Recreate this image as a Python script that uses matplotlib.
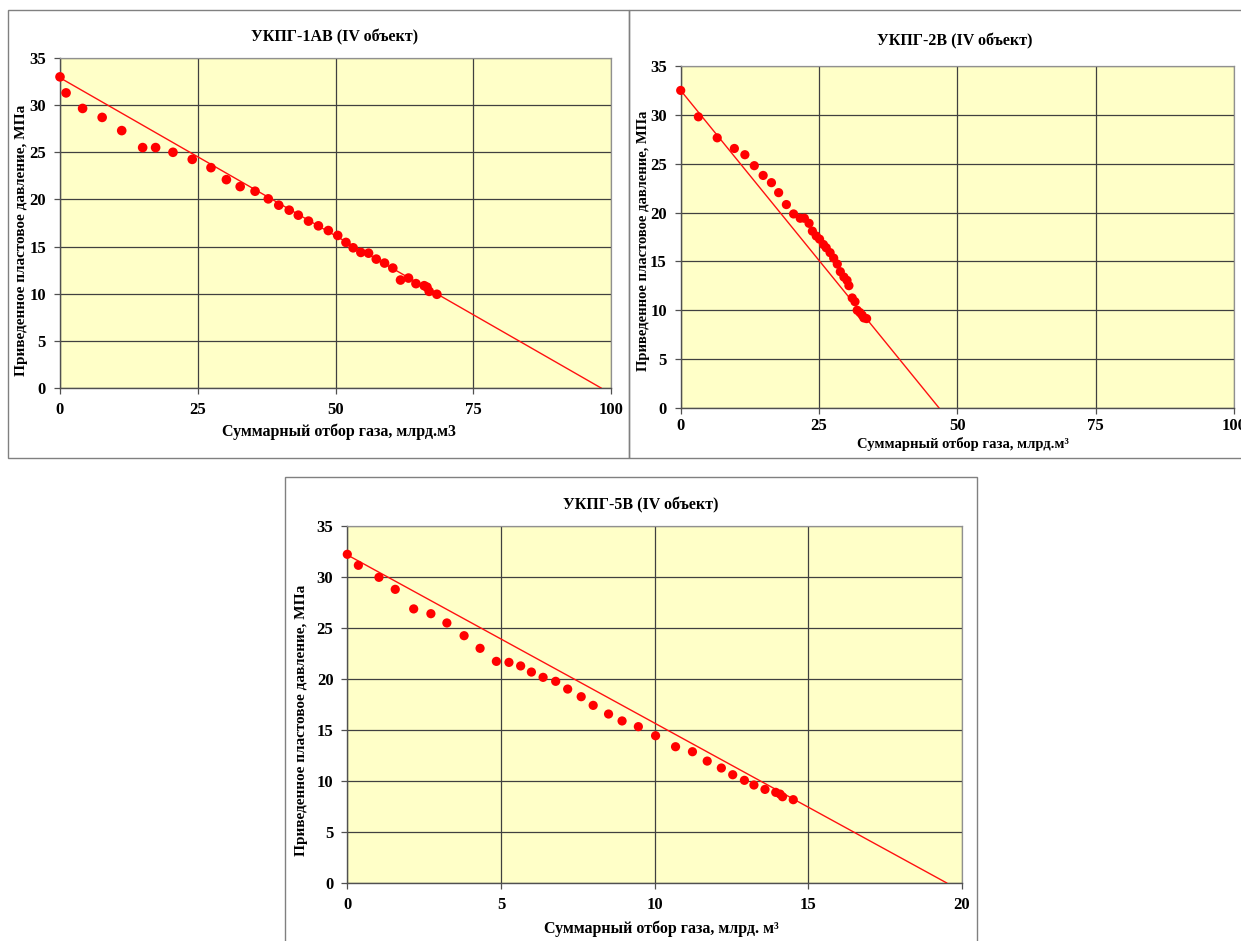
import matplotlib
matplotlib.use("Agg")
import matplotlib.pyplot as plt
from matplotlib.patches import Rectangle

plt.rcParams["font.family"] = ["Liberation Serif", "DejaVu Serif"]
plt.rcParams["font.weight"] = "bold"

# ---------------------------------------------------------------------------
# Data
# ---------------------------------------------------------------------------

# УКПГ-1АВ
q1 = [0.0, 1.1, 4.1, 7.65, 11.2, 15.0, 17.35, 20.5, 24.0, 27.4, 30.2, 32.7,
      35.4, 37.8, 39.7, 41.6, 43.25, 45.1, 46.9, 48.7, 50.4, 51.9, 53.2, 54.6,
      56.0, 57.4, 58.9, 60.4, 61.8, 63.25, 64.6, 66.1, 66.6, 67.0, 68.4]
p1 = [33.0, 31.3, 29.65, 28.7, 27.3, 25.5, 25.5, 25.0, 24.25, 23.37, 22.1,
      21.36, 20.87, 20.06, 19.39, 18.86, 18.33, 17.7, 17.2, 16.7, 16.18, 15.44,
      14.87, 14.38, 14.3, 13.67, 13.25, 12.72, 11.45, 11.66, 11.07, 10.85,
      10.7, 10.25, 9.94]
trend1_q = [0.0, 98.2]
trend1_p = [32.9, 0.0]

# УКПГ-2В
q2 = [0.0, 3.2, 6.6, 9.7, 11.6, 13.3, 14.9, 16.4, 17.7, 19.1, 20.4, 21.6,
      22.35, 23.2, 23.8, 24.5, 25.1, 25.8, 26.3, 27.0, 27.65, 28.3, 28.85,
      29.5, 30.06, 30.4, 31.0, 31.5, 31.9, 32.4, 32.8, 33.1, 33.6]
p2 = [32.5, 29.8, 27.65, 26.56, 25.92, 24.8, 23.8, 23.06, 22.04, 20.82,
      19.86, 19.42, 19.42, 18.9, 18.1, 17.6, 17.28, 16.73, 16.4, 15.9, 15.34,
      14.73, 13.95, 13.4, 13.06, 12.52, 11.26, 10.88, 10.0, 9.76, 9.5, 9.22,
      9.15]
trend2_q = [0.0, 46.7]
trend2_p = [32.5, 0.0]

# УКПГ-5В
q5 = [0.0, 0.36, 1.03, 1.56, 2.16, 2.72, 3.24, 3.8, 4.32, 4.85, 5.26, 5.64,
      5.99, 6.37, 6.78, 7.17, 7.61, 8.0, 8.5, 8.94, 9.47, 10.03, 10.68, 11.23,
      11.71, 12.17, 12.54, 12.92, 13.23, 13.59, 13.94, 14.08, 14.16, 14.51]
p5 = [32.26, 31.18, 30.0, 28.82, 26.9, 26.43, 25.52, 24.27, 23.03, 21.75,
      21.65, 21.3, 20.7, 20.18, 19.79, 19.03, 18.28, 17.43, 16.58, 15.9, 15.34,
      14.45, 13.37, 12.88, 11.96, 11.28, 10.62, 10.07, 9.61, 9.18, 8.89, 8.72,
      8.46, 8.17]
trend5_q = [0.0, 19.5]
trend5_p = [32.2, 0.0]

titles = ["УКПГ-1АВ (IV объект)", "УКПГ-2В (IV объект)", "УКПГ-5В (IV объект)"]
xlabels = ["Суммарный отбор газа, млрд.м3",
           "Суммарный отбор газа, млрд.м³",
           "Суммарный отбор газа, млрд. м³"]
ylabel = "Приведенное пластовое давление, МПа"
xticks_big = [0, 25, 50, 75, 100]
xticks_small = [0, 5, 10, 15, 20]
yticks = [0, 5, 10, 15, 20, 25, 30, 35]

# ---------------------------------------------------------------------------
# Figure
# ---------------------------------------------------------------------------

W, H = 1241, 941
fig = plt.figure(figsize=(W / 100, H / 100), dpi=100)
fig.patch.set_facecolor("white")


def px(x0, y0, x1, y1):
    """Axes rectangle from pixel box (top-left origin)."""
    return [x0 / W, 1 - y1 / H, (x1 - x0) / W, (y1 - y0) / H]


# panel frames
for x0, y0, x1, y1 in [(8, 10, 629, 458), (629, 10, 1245, 458), (285, 477, 977, 945)]:
    fig.patches.append(Rectangle((x0 / W, 1 - y1 / H), (x1 - x0) / W, (y1 - y0) / H,
                                 transform=fig.transFigure, fill=False,
                                 edgecolor="#808080", linewidth=1.0))


def draw(rect, q, p, tq, tp, xticks, xmax, ms=44, xpad=6):
    ax = fig.add_axes(rect)
    ax.set_facecolor("#FFFFC8")
    ax.set_xlim(0, xmax)
    ax.set_ylim(0, 35)
    ax.set_xticks(xticks)
    ax.set_yticks(yticks)
    ax.grid(True, color="#404040", linewidth=0.9)
    ax.set_axisbelow(True)
    ax.plot(tq, tp, color="#FF1010", linewidth=1.0, zorder=3)
    ax.scatter(q, p, s=ms, color="#FF0000", edgecolors="none", zorder=4, clip_on=False)
    for side in ["top", "right"]:
        ax.spines[side].set_color("#909090")
        ax.spines[side].set_linewidth(0.9)
    for side in ["left", "bottom"]:
        ax.spines[side].set_color("#505050")
        ax.spines[side].set_linewidth(1.0)
    ax.tick_params(direction="out", length=4, width=0.9, color="#505050",
                   labelsize=12, pad=6)
    ax.tick_params(axis="x", pad=xpad)
    for lab in ax.get_xticklabels() + ax.get_yticklabels():
        lab.set_fontweight("bold")
    return ax


draw(px(60, 58, 611, 388), q1, p1, trend1_q, trend1_p, xticks_big, 100, ms=48)
draw(px(680.7, 66, 1234, 408), q2, p2, trend2_q, trend2_p, xticks_big, 100, xpad=3)
draw(px(347.3, 526.4, 962, 882.9), q5, p5, trend5_q, trend5_p, xticks_small, 20)

# titles and axis labels
fig.text(335 / W, 1 - 37 / H, titles[0], ha="center", va="center", fontsize=11.5, fontweight="bold")
fig.text(955 / W, 1 - 41 / H, titles[1], ha="center", va="center", fontsize=11.5, fontweight="bold")
fig.text(641 / W, 1 - 505 / H, titles[2], ha="center", va="center", fontsize=11.5, fontweight="bold")

fig.text(339 / W, 1 - 432 / H, xlabels[0], ha="center", va="center", fontsize=11.5, fontweight="bold")
fig.text(963 / W, 1 - 444 / H, xlabels[1], ha="center", va="center", fontsize=10.5, fontweight="bold")
fig.text(661 / W, 1 - 929 / H, xlabels[2], ha="center", va="center", fontsize=11.5, fontweight="bold")

fig.text(22 / W, 1 - 240 / H, ylabel, rotation=90, ha="center", va="center", fontsize=11, fontweight="bold")
fig.text(644 / W, 1 - 241 / H, ylabel, rotation=90, ha="center", va="center", fontsize=10.5, fontweight="bold")
fig.text(301 / W, 1 - 720 / H, ylabel, rotation=90, ha="center", va="center", fontsize=11, fontweight="bold")

fig.savefig("out.png", dpi=100)
